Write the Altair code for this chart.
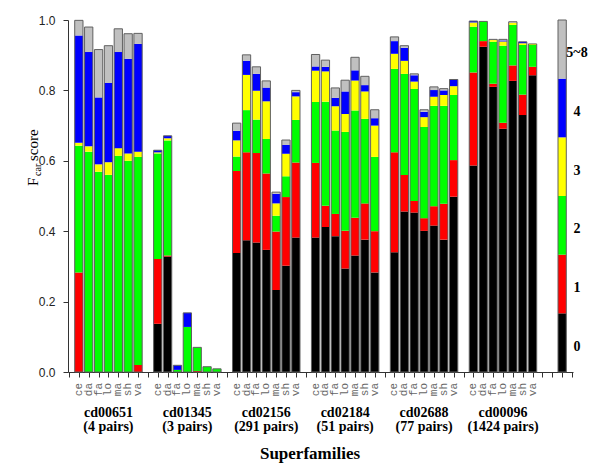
import altair as alt
import pandas as pd

groups = ["cd00651", "cd01345", "cd02156", "cd02184", "cd02688", "cd00096"]
pairs = ["(4 pairs)", "(3 pairs)", "(291 pairs)", "(51 pairs)", "(77 pairs)", "(1424 pairs)"]
species = ["ce", "da", "fa", "lo", "ma", "sh", "va"]
score_names = ["0", "1", "2", "3", "4", "5~8"]
score_colors = ["#000000", "#ff0000", "#00ff00", "#ffff00", "#0000ff", "#c0c0c0"]

# fraction of each score class, 7 bars per superfamily (ce, da, fa, lo, ma, sh, va)
score0 = [0, 0, 0, 0, 0, 0, 0,
          0.137, 0.328, 0, 0, 0, 0, 0,
          0.338, 0.374, 0.368, 0.347, 0.233, 0.302, 0.382,
          0.382, 0.412, 0.386, 0.294, 0.331, 0.376, 0.283,
          0.340, 0.456, 0.453, 0.401, 0.416, 0.376, 0.498,
          0.587, 0.924, 0.810, 0.691, 0.827, 0.730, 0.843]
score1 = [0.283, 0, 0, 0, 0, 0, 0.020,
          0.184, 0.003, 0, 0, 0.003, 0, 0,
          0.233, 0.250, 0.254, 0.217, 0.166, 0.195, 0.213,
          0.212, 0.060, 0.063, 0.107, 0.107, 0.103, 0.117,
          0.284, 0.104, 0.033, 0.036, 0.055, 0.102, 0.104,
          0.264, 0.016, 0.009, 0.017, 0.044, 0.058, 0.024]
score2 = [0.360, 0.626, 0.569, 0.560, 0.614, 0.600, 0.591,
          0.300, 0.327, 0.006, 0.128, 0.067, 0.015, 0.009,
          0.041, 0.120, 0.095, 0.098, 0.045, 0.059, 0.121,
          0.173, 0.296, 0.237, 0.281, 0.305, 0.240, 0.211,
          0.237, 0.287, 0.318, 0.259, 0.285, 0.278, 0.185,
          0.130, 0.056, 0.119, 0.219, 0.115, 0.141, 0.062]
score3 = [0.008, 0.015, 0.021, 0.036, 0.022, 0.021, 0.015,
          0.003, 0.006, 0, 0, 0, 0, 0,
          0.046, 0.100, 0.082, 0.107, 0.035, 0.064, 0.067,
          0.089, 0.086, 0.069, 0.051, 0.085, 0.078, 0.089,
          0.043, 0.037, 0.021, 0.028, 0.026, 0.031, 0.025,
          0.012, 0, 0.005, 0.012, 0.006, 0.005, 0.003]
score4 = [0.305, 0.268, 0.190, 0.225, 0.273, 0.269, 0.306,
          0.006, 0.007, 0.013, 0.040, 0, 0, 0,
          0.027, 0.040, 0.048, 0.039, 0.027, 0.025, 0.012,
          0.012, 0.013, 0.024, 0.064, 0.029, 0.018, 0.021,
          0.036, 0.037, 0.018, 0.015, 0.019, 0.013, 0.019,
          0.004, 0, 0, 0.003, 0, 0.004, 0]
score5 = [0.043, 0.071, 0.136, 0.106, 0.066, 0.071, 0.030,
          0, 0, 0, 0, 0, 0, 0,
          0.022, 0.017, 0.020, 0.019, 0.005, 0.014, 0.005,
          0.034, 0.019, 0.028, 0.032, 0.037, 0.025, 0.024,
          0.012, 0.006, 0.004, 0.006, 0.009, 0.005, 0,
          0, 0, 0.002, 0.003, 0.003, 0, 0]
legend_share = [1 / 6] * 6

scores = [score0, score1, score2, score3, score4, score5]
HALF = 0.42
SERIF = "'Liberation Serif', 'Times New Roman', Times, 'DejaVu Serif', serif"

seg_rows, bar_rows, lab_rows, grp_rows = [], [], [], []
for gi, g in enumerate(groups):
    grp_rows.append({"c": gi * 8 + 3, "name": g, "pairs": pairs[gi]})
    for si, sp in enumerate(species):
        idx = gi * 7 + si
        slot = gi * 8 + si
        base = 0.0
        for k, arr in enumerate(scores):
            v = arr[idx]
            if v > 0:
                seg_rows.append({"a": slot - HALF, "b": slot + HALF, "y0": base,
                                 "y1": base + v, "score": score_names[k]})
            base += v
        bar_rows.append({"a": slot - HALF, "b": slot + HALF, "y0": 0, "y1": base})
        lab_rows.append({"slot": slot, "sp": sp})

leg_rows = []
base = 0.0
for k, v in enumerate(legend_share):
    leg_rows.append({"a": 49 - HALF, "b": 49 + HALF, "y0": base, "y1": base + v,
                     "score": score_names[k], "mid": base + v / 2})
    base += v
bar_rows.append({"a": 49 - HALF, "b": 49 + HALF, "y0": 0, "y1": base})

seg_df = pd.DataFrame(seg_rows + leg_rows)
bar_df = pd.DataFrame(bar_rows)
lab_df = pd.DataFrame(lab_rows)
grp_df = pd.DataFrame(grp_rows)
leg_df = pd.DataFrame(leg_rows)

xscale = alt.Scale(domain=[-1.1, 50.1], nice=False, zero=False)
yscale = alt.Scale(domain=[0, 1], nice=False)
xaxis = alt.Axis(values=list(range(-1, 51)), labels=False, title=None, grid=False,
                 tickSize=5, domainColor="#333333", tickColor="#333333")
yaxis = alt.Axis(values=[0, 0.2, 0.4, 0.6, 0.8, 1.0], format=".1f", title=None, grid=False,
                 tickSize=5, labelPadding=8, labelFont="Liberation Sans", labelFontSize=12,
                 labelColor="#222222", domainColor="#333333", tickColor="#333333")

segs = alt.Chart(seg_df).mark_rect().encode(
    x=alt.X("a:Q", scale=xscale, axis=xaxis),
    x2="b:Q",
    y=alt.Y("y0:Q", scale=yscale, axis=yaxis),
    y2="y1:Q",
    color=alt.Color("score:N", scale=alt.Scale(domain=score_names, range=score_colors), legend=None),
)

outline = alt.Chart(bar_df).mark_rect(fillOpacity=0, stroke="#606060", strokeWidth=1).encode(
    x=alt.X("a:Q", scale=xscale, axis=xaxis),
    x2="b:Q",
    y=alt.Y("y0:Q", scale=yscale, axis=yaxis),
    y2="y1:Q",
)

bar_labels = alt.Chart(lab_df).mark_text(
    angle=270, align="right", baseline="middle", font="Liberation Mono",
    fontSize=11, color="#666666"
).encode(x=alt.X("slot:Q", scale=xscale, axis=xaxis), y=alt.value(363), text="sp:N")

grp_names = alt.Chart(grp_df).mark_text(
    align="center", baseline="alphabetic", font=SERIF, fontWeight="bold",
    fontSize=14, color="#000000"
).encode(x=alt.X("c:Q", scale=xscale, axis=xaxis), y=alt.value(397), text="name:N")

grp_pairs = alt.Chart(grp_df).mark_text(
    align="center", baseline="alphabetic", font=SERIF, fontWeight="bold",
    fontSize=14, color="#000000"
).encode(x=alt.X("c:Q", scale=xscale, axis=xaxis), y=alt.value(411), text="pairs:N")

leg_labels = alt.Chart(leg_df).mark_text(
    align="center", baseline="middle", dy=4, font=SERIF, fontWeight="bold",
    fontSize=14, color="#000000"
).encode(x=alt.value(509), y=alt.Y("mid:Q", scale=yscale, axis=yaxis), text="score:N")

title_df = pd.DataFrame({"t": ["Superfamilies"]})
x_title = alt.Chart(title_df).mark_text(
    align="center", baseline="alphabetic", font=SERIF, fontWeight="bold",
    fontSize=17, color="#000000"
).encode(x=alt.value(242), y=alt.value(439), text="t:N")

yt_f = alt.Chart(pd.DataFrame({"t": ["F"]})).mark_text(
    angle=270, align="left", baseline="alphabetic", font=SERIF,
    fontSize=15, color="#000000"
).encode(x=alt.value(-30), y=alt.value(166), text="t:N")
yt_sub = alt.Chart(pd.DataFrame({"t": ["car"]})).mark_text(
    angle=270, align="left", baseline="alphabetic", font=SERIF,
    fontSize=10, color="#000000"
).encode(x=alt.value(-27), y=alt.value(156), text="t:N")
yt_score = alt.Chart(pd.DataFrame({"t": ["score"]})).mark_text(
    angle=270, align="left", baseline="alphabetic", font=SERIF,
    fontSize=15, color="#000000"
).encode(x=alt.value(-30), y=alt.value(141), text="t:N")

chart = alt.layer(
    segs, outline, bar_labels, grp_names, grp_pairs, leg_labels, x_title, yt_f, yt_sub, yt_score
).properties(
    width=505, height=352,
    padding={"left": 60, "top": 12, "right": 19, "bottom": 94},
    autosize=alt.AutoSizeParams(type="none"),
    background="white",
).configure_view(strokeWidth=0)

chart.save("out.html", embed_options={"renderer": "svg", "actions": False})
